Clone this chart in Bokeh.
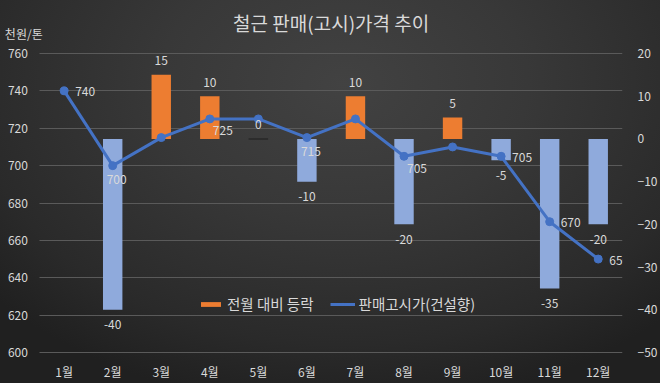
from bokeh.plotting import figure
from bokeh.models import (Range1d, LinearAxis, FixedTicker, Legend, LegendItem)
from bokeh.embed import file_html
from bokeh.resources import INLINE
from bokeh.core.properties import value

# ---- data ----
months = ["1월", "2월", "3월", "4월", "5월", "6월", "7월", "8월", "9월", "10월", "11월", "12월"]
price = [740, 700, 715, 725, 725, 715, 725, 705, 710, 705, 670, 650]
change = [None, -40, 15, 10, 0, -10, 10, -20, 5, -5, -35, -20]
left_ticks = [600, 620, 640, 660, 680, 700, 720, 740, 760]
right_ticks = [-50, -40, -30, -20, -10, 0, 10, 20]
title_text = "철근 판매(고시)가격 추이"
unit_text = "천원/톤"
bar_name = "전월 대비 등락"
line_name = "판매고시가(건설향)"

# which price labels are displayed and where
price_right = [0, 9, 10, 11]
price_below = [1, 5]
price_below_right = [3, 7]

FONT = "Noto Sans CJK KR"
TXT = "#d9d9d9"
ORANGE = "#ED7D31"
BLUE_BAR = "#8FAADC"
LINE = "#4472C4"

# layout: category area spans x 40..632, tick span y 53..352;
# the drawing frame is extended left/top/bottom so that unit, title and labels fit
W, H = 660, 383
CAT_L, FR_R, TICK_TOP, TICK_BOT, FR_B = 40, 632, 53, 352, 358
n = len(months)
px_per_cat = (FR_R - CAT_L) / n
x_lo = -0.5 - CAT_L / px_per_cat
x_hi = n - 0.5
axis_px = TICK_BOT - TICK_TOP
l_lo, l_hi = min(left_ticks), max(left_ticks)
r_lo, r_hi = min(right_ticks), max(right_ticks)
l_upp = (l_hi - l_lo) / axis_px
r_upp = (r_hi - r_lo) / axis_px
ext_b = FR_B - TICK_BOT

xi = list(range(n))

p = figure(x_range=Range1d(x_lo, x_hi),
           y_range=Range1d(l_lo - ext_b * l_upp, l_hi + TICK_TOP * l_upp),
           width=W, height=H, output_backend="svg", toolbar_location=None,
           y_axis_location=None, min_border_left=0, min_border_right=W - FR_R,
           min_border_top=0, min_border_bottom=H - FR_B)
p.extra_y_ranges = {"chg": Range1d(r_lo - ext_b * r_upp, r_hi + TICK_TOP * r_upp)}

p.background_fill_alpha = 0
p.border_fill_alpha = 0
p.outline_line_color = None
p.styles = {"background": "radial-gradient(ellipse 70% 85% at 52% 22%, #424242 0%, #383838 40%, #2a2a2a 80%, #202020 100%)"}

# bottom axis (months)
xa = p.xaxis[0]
xa.ticker = FixedTicker(ticks=xi)
xa.major_label_overrides = {i: m for i, m in zip(xi, months)}
xa.axis_line_color = None
xa.major_tick_line_color = None
xa.minor_tick_line_color = None
xa.major_label_text_color = TXT
xa.major_label_text_font = FONT
xa.major_label_text_font_size = "12px"
xa.major_label_standoff = -2
p.xgrid.grid_line_color = None

# horizontal gridlines at the left-axis ticks, across the category area
p.ygrid.ticker = FixedTicker(ticks=left_ticks)
p.ygrid.grid_line_color = "#5a5a5a"
p.ygrid.grid_line_width = 1
p.ygrid.cross_bounds = (-0.5, x_hi)

# left-axis tick labels (drawn at the left edge of the category area)
p.text(x=[-0.5] * len(left_ticks), y=left_ticks, text=[str(t) for t in left_ticks],
       text_align="right", text_baseline="middle", x_offset=-12,
       text_font=value(FONT), text_font_size="12px", text_color=TXT)

# right axis
raxis = LinearAxis(y_range_name="chg", ticker=FixedTicker(ticks=right_ticks))
raxis.axis_line_color = None
raxis.major_tick_line_color = None
raxis.minor_tick_line_color = None
raxis.major_label_text_color = TXT
raxis.major_label_text_font = FONT
raxis.major_label_text_font_size = "12px"
raxis.major_label_standoff = 9
p.add_layout(raxis, "right")

# bars
pos_x = [i for i, c in zip(xi, change) if c is not None and c >= 0]
pos_v = [c for c in change if c is not None and c >= 0]
neg_x = [i for i, c in zip(xi, change) if c is not None and c < 0]
neg_v = [c for c in change if c is not None and c < 0]

r_pos = p.vbar(x=pos_x, top=pos_v, bottom=0, width=0.4, fill_color=ORANGE, line_color=None,
               y_range_name="chg")
p.vbar(x=neg_x, top=neg_v, bottom=0, width=0.4, fill_color=BLUE_BAR, line_color=None,
       y_range_name="chg")
zero_x = [i for i, c in zip(xi, change) if c == 0]
p.segment(x0=[i - 0.2 for i in zero_x], x1=[i + 0.2 for i in zero_x],
          y0=[0] * len(zero_x), y1=[0] * len(zero_x), line_color="#2c2c2c", line_width=2,
          y_range_name="chg")

# line
r_line = p.line(x=xi, y=price, line_color=LINE, line_width=3)
r_pts = p.scatter(x=xi, y=price, size=8, fill_color=LINE, line_color=LINE)

# bar labels
p.text(x=pos_x, y=pos_v, text=[str(v) for v in pos_v], y_range_name="chg",
       text_align="center", text_baseline="middle", y_offset=-14,
       text_font=value(FONT), text_font_size="12px", text_color=TXT)
p.text(x=neg_x, y=neg_v, text=[str(v) for v in neg_v], y_range_name="chg",
       text_align="center", text_baseline="middle", y_offset=15,
       text_font=value(FONT), text_font_size="12px", text_color=TXT)

# price labels
def sub(idx):
    return [xi[i] for i in idx], [price[i] for i in idx], [str(price[i]) for i in idx]

xs, ys, ts = sub(price_right)
p.text(x=xs, y=ys, text=ts, text_align="left", text_baseline="middle", x_offset=11, y_offset=1,
       text_font=value(FONT), text_font_size="12px", text_color=TXT)
xs, ys, ts = sub(price_below)
p.text(x=xs, y=ys, text=ts, text_align="center", text_baseline="middle", x_offset=4, y_offset=14,
       text_font=value(FONT), text_font_size="12px", text_color=TXT)
xs, ys, ts = sub(price_below_right)
p.text(x=xs, y=ys, text=ts, text_align="center", text_baseline="middle", x_offset=13, y_offset=12,
       text_font=value(FONT), text_font_size="12px", text_color=TXT)

# title (above the top gridline, centred over the category area)
p.text(x=[(x_hi - 0.5) / 2], y=[l_hi], text=[title_text], text_align="center",
       text_baseline="middle", x_offset=0, y_offset=-31,
       text_font=value(FONT), text_font_size="19px", text_color=TXT)

# unit label (top-left)
p.text(x=[-0.5], y=[l_hi], text=[unit_text], text_align="left", text_baseline="middle",
       x_offset=-35, y_offset=-20,
       text_font=value(FONT), text_font_size="12px", text_color=TXT)

legend = Legend(items=[LegendItem(label=bar_name, renderers=[r_pos]),
                       LegendItem(label=line_name, renderers=[r_line, r_pts])],
                orientation="horizontal", location=(198, 38 + ext_b), padding=0, margin=0,
                spacing=16, label_standoff=4, glyph_width=25, glyph_height=6,
                background_fill_alpha=0, border_line_alpha=0,
                label_text_font=FONT, label_text_font_size="14.5px", label_text_color=TXT)
p.add_layout(legend, "center")

open("out.html", "w").write(file_html(p, INLINE))
